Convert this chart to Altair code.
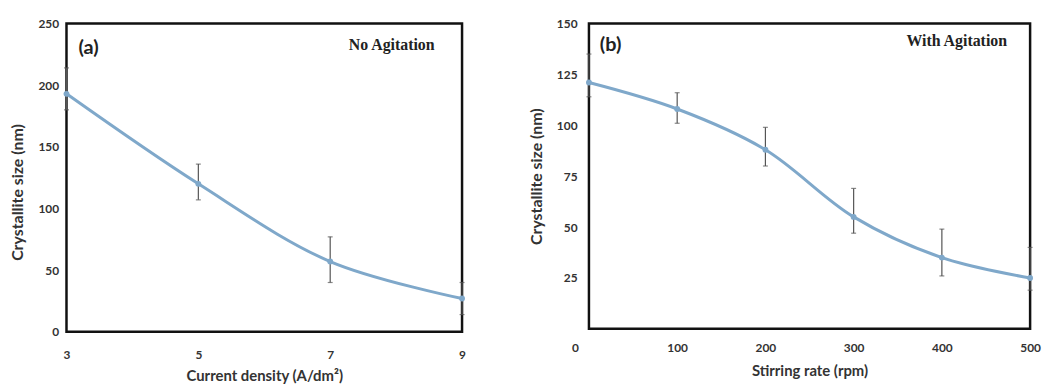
import altair as alt
import pandas as pd

# Panel (a): no agitation
cd_x = [3, 5, 7, 9]
cd_size = [193, 120, 57, 27]
cd_lo = [180, 107, 40, 14]
cd_hi = [214, 136, 77, 40]

# Panel (b): with agitation
sr_x = [0, 100, 200, 300, 400, 500]
sr_size = [121, 108, 88, 55, 35, 25]
sr_lo = [114, 101, 80, 47, 26, 19]
sr_hi = [135, 116, 99, 69, 49, 40]

LINE = "#7fa8ca"
BAR = "#555555"
FONT = "Lato"

df_a = pd.DataFrame({"x": cd_x, "y": cd_size, "lo": cd_lo, "hi": cd_hi})
df_b = pd.DataFrame({"x": sr_x, "y": sr_size, "lo": sr_lo, "hi": sr_hi})


def panel(df, xdom, xvals, ydom, yvals, xtitle, tag, note, w, h, tag_xy, note_xy,
          xlabpad, xtitlepad, ytitle_y, ylabpad):
    xs = alt.Scale(domain=xdom, nice=False, zero=False)
    ys = alt.Scale(domain=ydom, nice=False)
    xax = alt.Axis(values=xvals, title=xtitle, grid=False, domain=False, ticks=False,
                   format="d", labelPadding=xlabpad, titlePadding=xtitlepad,
                   labelFontSize=12, titleFontSize=15,
                   labelFont=FONT, titleFont=FONT, labelFontWeight="bold",
                   titleFontWeight="bold", labelColor="#333", titleColor="#333",
                   labelFlush=False,
                   labelOffset={"condition": {"test": "datum.value == 0", "value": -14},
                                "value": 0})
    yax = alt.Axis(values=yvals, title="Crystallite size (nm)", grid=False, domain=False,
                   ticks=False, labelPadding=ylabpad, titlePadding=12, labelFontSize=12,
                   titleFontSize=16, labelFont=FONT, titleFont=FONT,
                   labelFontWeight="bold", titleFontWeight="bold",
                   labelColor="#333", titleColor="#333", labelFlush=False,
                   titleY=ytitle_y)
    base = alt.Chart(df)
    line = base.mark_line(color=LINE, strokeWidth=3, interpolate="catmull-rom").encode(
        x=alt.X("x:Q", scale=xs, axis=xax), y=alt.Y("y:Q", scale=ys, axis=yax))
    pts = base.mark_point(color=LINE, filled=True, size=35, opacity=1).encode(
        x=alt.X("x:Q", scale=xs), y=alt.Y("y:Q", scale=ys))
    rule = base.mark_rule(color=BAR, strokeWidth=1.2).encode(
        x=alt.X("x:Q", scale=xs), y=alt.Y("lo:Q", scale=ys), y2="hi:Q")
    cap_lo = base.mark_tick(color=BAR, orient="horizontal", size=5, thickness=1.2).encode(
        x=alt.X("x:Q", scale=xs), y=alt.Y("lo:Q", scale=ys))
    cap_hi = base.mark_tick(color=BAR, orient="horizontal", size=5, thickness=1.2).encode(
        x=alt.X("x:Q", scale=xs), y=alt.Y("hi:Q", scale=ys))
    tag_t = alt.Chart(pd.DataFrame({"t": [tag]})).mark_text(
        text=tag, font=FONT, fontSize=20, fontWeight="bold", color="#222",
        align="left", baseline="middle").encode(x=alt.value(tag_xy[0]), y=alt.value(tag_xy[1]))
    note_t = alt.Chart(pd.DataFrame({"t": [note]})).mark_text(
        text=note, font="Liberation Serif", fontSize=16, fontWeight="bold", color="#222",
        align="center", baseline="middle").encode(x=alt.value(note_xy[0]), y=alt.value(note_xy[1]))
    return alt.layer(rule, cap_lo, cap_hi, line, pts, tag_t, note_t).properties(
        width=w, height=h)


pa = panel(df_a, [3, 9], [3, 5, 7, 9], [0, 250], [0, 50, 100, 150, 200, 250],
           "Current density (A/dm²)", "(a)", "No Agitation", 399, 311, (12, 25), (328, 22),
           18, 8, 170, 8)
pb = panel(df_b, [0, 500], [0, 100, 200, 300, 400, 500], [0, 150],
           [25, 50, 75, 100, 125, 150], "Stirring rate (rpm)", "(b)", "With Agitation",
           445, 308, (11, 22), (371, 18), 14, 10, 154, 12)

chart = alt.hconcat(pa, pb, spacing=57).configure_view(
    stroke="#111", strokeWidth=2.5).properties(padding={"left": 0, "top": 6, "right": 0, "bottom": 0})

chart.save("out.html", embed_options={"renderer": "svg", "actions": False})
